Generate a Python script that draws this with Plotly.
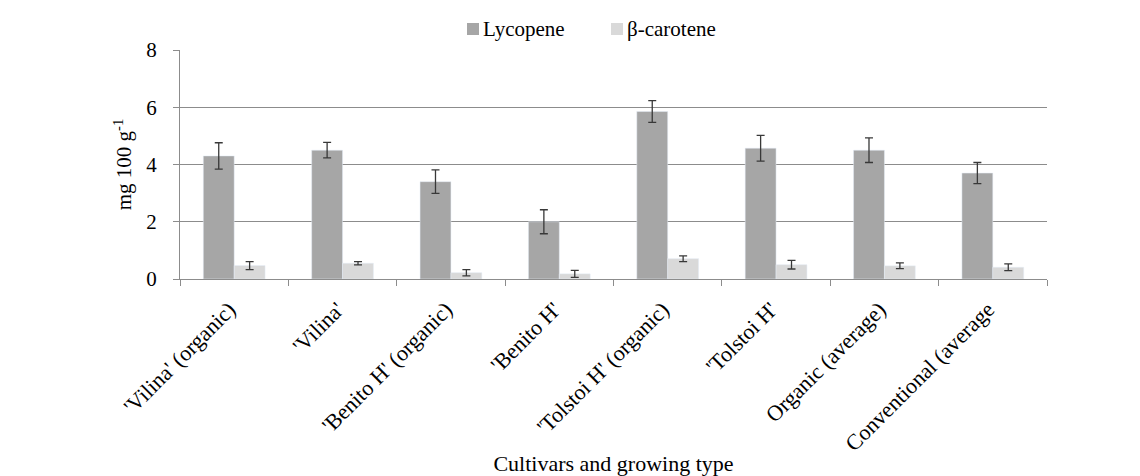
import plotly.graph_objects as go

categories = ["'Vilina' (organic)", "'Vilina'", "'Benito H' (organic)", "'Benito H'",
              "'Tolstoi H' (organic)", "'Tolstoi H'", "Organic (average)", "Conventional (average"]
lycopene = [4.3, 4.5, 3.4, 2.0, 5.85, 4.57, 4.5, 3.7]
lycopene_err = [0.46, 0.27, 0.41, 0.42, 0.38, 0.45, 0.43, 0.37]
beta_carotene = [0.47, 0.55, 0.22, 0.18, 0.71, 0.5, 0.46, 0.41]
beta_err = [0.14, 0.06, 0.11, 0.12, 0.1, 0.15, 0.1, 0.12]
series_names = ["Lycopene", "β-carotene"]
series_colors = ["#a6a6a6", "#d9d9d9"]
y_ticks = [0, 2, 4, 6, 8]

FONT = "Liberation Serif, Times New Roman, serif"
err_style = dict(type="data", thickness=1.3, width=4, color="#383838")

W, H = 1132, 468
L, R, T, B = 172, 93, 42, 197
PW = W - L - R
PH = H - T - B
OFF = 8  # page offset of the figure (body margin)


def px_x(page_x):
    return (page_x - OFF - L) / PW


def px_y(page_y):
    return 1 - ((page_y - OFF) - T) / PH


fig = go.Figure()
fig.add_trace(go.Bar(x=categories, y=lycopene, name=series_names[0], marker_color=series_colors[0],
                     error_y=dict(array=lycopene_err, **err_style), showlegend=False))
fig.add_trace(go.Bar(x=categories, y=beta_carotene, name=series_names[1], marker_color=series_colors[1],
                     error_y=dict(array=beta_err, **err_style), showlegend=False))

# legend drawn above the plot (swatch + label for each series)
legend_left = [467, 611]
legend_cy = 29
sw = 12
for name, color, lx in zip(series_names, series_colors, legend_left):
    fig.add_shape(type="rect", xref="paper", yref="paper",
                  x0=px_x(lx), x1=px_x(lx + sw), y0=px_y(legend_cy + sw / 2), y1=px_y(legend_cy - sw / 2),
                  fillcolor=color, line=dict(width=0))
    fig.add_annotation(xref="paper", yref="paper", x=px_x(lx + sw + 2), y=px_y(legend_cy),
                       xanchor="left", yanchor="middle", text=name, showarrow=False,
                       font=dict(size=21, family=FONT, color="#000"))

fig.update_layout(
    width=W, height=H,
    margin=dict(l=L, r=R, t=T, b=B),
    paper_bgcolor="white", plot_bgcolor="white",
    barmode="group", bargap=0.43, bargroupgap=0,
    font=dict(family=FONT, color="#000000", size=21),
    showlegend=False,
)
fig.update_yaxes(range=[0, 8], tickvals=y_ticks, showgrid=True, gridcolor="#8c8c8c", gridwidth=1,
                 showline=True, linecolor="#8c8c8c", linewidth=1, ticks="outside", ticklen=6,
                 tickcolor="#8c8c8c", tickfont=dict(size=21, family=FONT), zeroline=False,
                 ticklabelstandoff=12, automargin=False,
                 title=dict(text="mg 100 g<sup>-1</sup>", font=dict(size=21, family=FONT), standoff=8))
fig.update_xaxes(showline=True, linecolor="#8c8c8c", linewidth=1, ticks="outside", ticklen=6,
                 tickcolor="#8c8c8c", tickson="boundaries", tickangle=-45,
                 tickfont=dict(size=22, family=FONT), ticklabelstandoff=8, ticklabelshift=-5,
                 automargin=False,
                 title=dict(text="Cultivars and growing type", font=dict(size=22, family=FONT), standoff=8))

fig.write_html("out.html")
